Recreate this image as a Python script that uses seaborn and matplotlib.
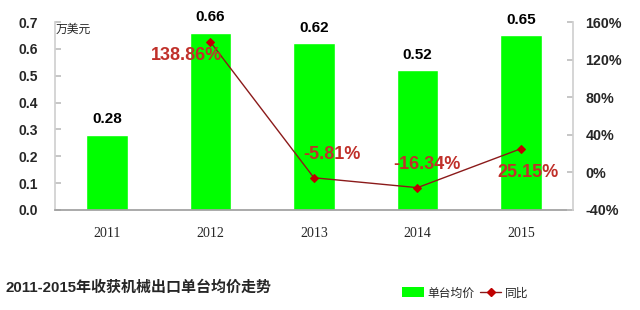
import matplotlib
matplotlib.use("Agg")
import matplotlib.pyplot as plt
import seaborn as sns
import pandas as pd
import numpy as np
from matplotlib.patches import Patch
from matplotlib.lines import Line2D

years = ["2011", "2012", "2013", "2014", "2015"]
price = [0.28, 0.66, 0.62, 0.52, 0.65]
growth = [np.nan, 138.86, -5.81, -16.34, 25.15]
growth_labels = ["", "138.86%", "-5.81%", "-16.34%", "25.15%"]
left_ticks = [0.0, 0.1, 0.2, 0.3, 0.4, 0.5, 0.6, 0.7]
right_ticks = [-40, 0, 40, 80, 120, 160]
title = "2011-2015年收获机械出口单台均价走势"
unit = "万美元"
legend_labels = ["单台均价", "同比"]

sns.set_theme(style="white")
plt.rcParams['font.family'] = ['Liberation Sans', 'Noto Sans CJK SC', 'DejaVu Sans']

fig = plt.figure(figsize=(6.4, 3.1), dpi=100)
ax = fig.add_axes([0.086, 0.323, 0.809, 0.606])

df = pd.DataFrame({"year": years, "price": price, "growth": growth})
sns.barplot(data=df, x="year", y="price", color="#00FF00", saturation=1, width=0.4, ax=ax)
ax.set_xlim(-0.5, 4.5)
ax.set_ylim(0, 0.7)
ax.set_yticks(left_ticks)
ax.set_yticklabels([f"{t:.1f}" for t in left_ticks], fontsize=10, fontweight="bold")
ax.set_xlabel("")
ax.set_ylabel("")
ax.set_xticks(range(len(years)))
ax.set_xticklabels(years, family="Liberation Serif", fontsize=10)
ax.tick_params(axis="x", length=0, pad=12)
ax.tick_params(axis="y", direction="in", length=4, color="#BFBFBF", pad=12)
for s in ["top", "right"]:
    ax.spines[s].set_visible(False)
ax.spines["left"].set_color("#D0D0D0")
ax.spines["bottom"].set_color("#A0A0A0")

for i, v in enumerate(price):
    ax.annotate(f"{v:.2f}", (i, v), xytext=(0, 6), textcoords="offset points",
                ha="center", va="bottom", fontsize=11, fontweight="bold", color="black")

ax.text(0.002, 0.96, unit, transform=ax.transAxes, fontsize=8.5,
        family=["Noto Sans CJK SC"], va="center", ha="left")

ax2 = ax.twinx()
xs = np.arange(len(years))
sns.lineplot(x=xs, y=growth, ax=ax2, color="#8B1A1A", linewidth=1,
             marker="D", markersize=4, markerfacecolor="#C00000", markeredgecolor="#C00000")
ax2.set_xlim(-0.5, 4.5)
ax2.set_ylim(-40, 160)
ax2.set_yticks(right_ticks)
ax2.set_yticklabels([f"{t}%" for t in right_ticks], fontsize=10.3, fontweight="bold")
ax2.tick_params(axis="y", direction="in", length=4, color="#BFBFBF", pad=9)
for s in ["top", "left", "bottom"]:
    ax2.spines[s].set_visible(False)
ax2.spines["right"].set_color("#D0D0D0")

offsets = [(0, 0), (-17, -10), (13, 17), (7, 17), (5, -17)]
for i, (g, lab) in enumerate(zip(growth, growth_labels)):
    if lab:
        ax2.annotate(lab, (i, g), xytext=offsets[i], textcoords="offset points",
                     ha="center", va="center", fontsize=13, fontweight="bold", color="#C0302A")

fig.text(0.008, 0.071, title, fontsize=10.8, fontweight="bold", va="center", ha="left",
         family=["Liberation Sans", "Noto Sans CJK SC"])

handles = [Patch(facecolor="#00FF00", edgecolor="none"),
           Line2D([0], [0], color="#8B1A1A", lw=1, marker="D", markersize=4,
                  markerfacecolor="#C00000", markeredgecolor="#C00000")]
fig.legend(handles, legend_labels, loc="center right", bbox_to_anchor=(0.842, 0.055), ncol=2,
           frameon=False, handlelength=1.8, handleheight=0.9, handletextpad=0.3, columnspacing=0.5,
           prop={"family": ["Noto Sans CJK SC"], "size": 8.5})

fig.savefig("out.png", dpi=100)
